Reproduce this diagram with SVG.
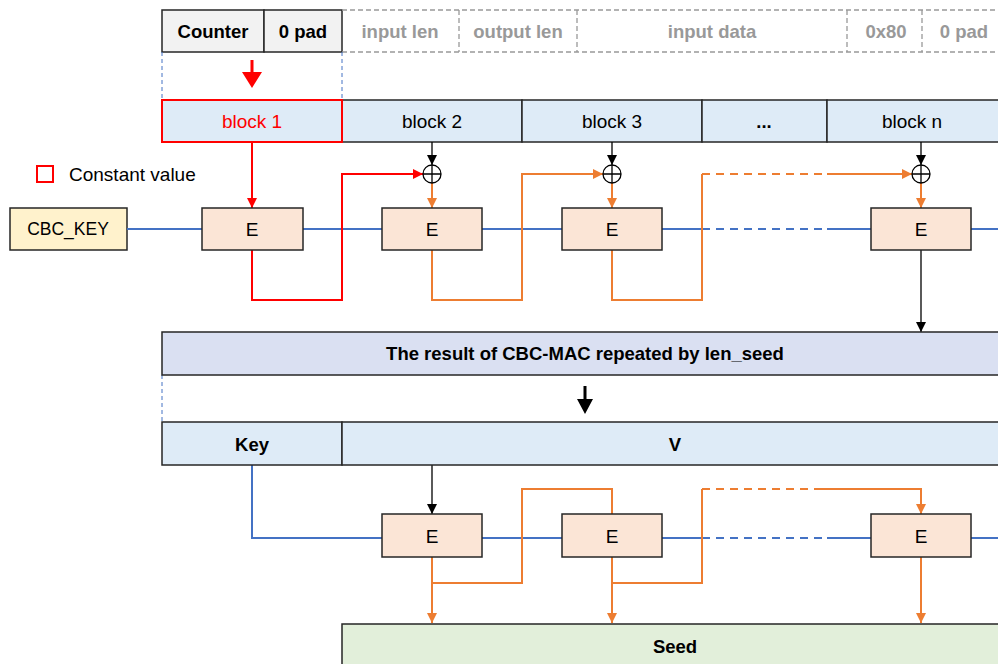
<svg xmlns="http://www.w3.org/2000/svg" width="998" height="664" viewBox="0 0 998 664">
<style>
text{font-family:"Liberation Sans",Arial,sans-serif;text-anchor:middle;dominant-baseline:central}
.b{font-weight:bold;font-size:18.5px;fill:#000}
.r{font-size:19px;fill:#000}
.g{font-weight:bold;font-size:18.5px;fill:#999}
.box{stroke:#262626;stroke-width:1.5}
.blk{fill:#deebf7;stroke:#262626;stroke-width:1.5}
.e{fill:#fbe5d6;stroke:#262626;stroke-width:1.5}
.gd{stroke:#999;stroke-width:1.3;stroke-dasharray:5,3;fill:none}
.bd{stroke:#4472c4;stroke-width:1;stroke-dasharray:4,3;fill:none}
.blue{stroke:#4472c4;stroke-width:2;fill:none}
.blued{stroke:#4472c4;stroke-width:2;fill:none;stroke-dasharray:8,6}
.or{stroke:#ed7d31;stroke-width:2;fill:none}
.ord{stroke:#ed7d31;stroke-width:2;fill:none;stroke-dasharray:8,6}
.red{stroke:#ff0000;stroke-width:2;fill:none}
.blk1{stroke:#000;stroke-width:1.3;fill:none}
.xor{fill:#fff;stroke:#000;stroke-width:1.3}
</style>
<defs>
<marker id="ab" markerUnits="userSpaceOnUse" markerWidth="10" markerHeight="10" refX="10" refY="5" orient="auto"><path d="M0,0 L10,5 L0,10 Z" fill="#000"/></marker>
<marker id="ao" markerUnits="userSpaceOnUse" markerWidth="10" markerHeight="10" refX="10" refY="5" orient="auto"><path d="M0,0 L10,5 L0,10 Z" fill="#ed7d31"/></marker>
<marker id="ar" markerUnits="userSpaceOnUse" markerWidth="10" markerHeight="10" refX="10" refY="5" orient="auto"><path d="M0,0 L10,5 L0,10 Z" fill="#ff0000"/></marker>
</defs>

<g id="input-format">
<rect x="162" y="10" width="102" height="42" fill="#f2f2f2" class="box"/>
<text x="213" y="31" class="b">Counter</text>
<rect x="264" y="10" width="78" height="42" fill="#f2f2f2" class="box"/>
<text x="303" y="31" class="b">0 pad</text>
<path class="gd" d="M342,10 H998 M342,52 H998 M459,10 V52 M577,10 V52 M847,10 V52 M922,10 V52"/>
<text x="400" y="31" class="g">input len</text>
<text x="518" y="31" class="g">output len</text>
<text x="712" y="31" class="g">input data</text>
<text x="886" y="31" class="g">0x80</text>
<text x="964" y="31" class="g">0 pad</text>
</g>

<g id="blocks">
<rect x="342" y="100" width="180" height="42" class="blk"/>
<text x="432" y="121" class="r">block 2</text>
<rect x="522" y="100" width="180" height="42" class="blk"/>
<text x="612" y="121" class="r">block 3</text>
<rect x="702" y="100" width="125" height="42" class="blk"/>
<text x="764" y="121" class="b">...</text>
<rect x="827" y="100" width="175" height="42" class="blk"/>
<text x="912" y="121" class="r">block n</text>
<rect x="162" y="100" width="180" height="42" fill="#deebf7" stroke="#ff0000" stroke-width="2"/>
<text x="252" y="121" class="r" style="fill:#ff0000">block 1</text>
</g>

<g id="legend">
<rect x="37" y="166" width="16" height="16" fill="none" stroke="#ff0000" stroke-width="2"/>
<text x="69" y="174" class="r" style="text-anchor:start">Constant value</text>
</g>

<g id="cbc-key">
<rect x="10" y="208" width="117" height="42" fill="#fff2cc" class="box"/>
<text x="68" y="229" class="r" style="font-size:17.5px">CBC_KEY</text>
</g>

<g id="connectors">
<path class="bd" d="M162,52 V100 M342,52 V100 M162,375 V422"/>
<path d="M250.5,60 H253.5 V72 H262 L252,88 L242,72 H250.5 Z" fill="#ff0000"/>
<path class="blue" d="M127,229 H202 M303,229 H382 M482,229 H562 M662,229 H702 M827,229 H871 M971,229 H998"/>
<path class="blued" d="M702,229 H827"/>
<path class="red" d="M252,142 V208" marker-end="url(#ar)"/>
<path class="red" d="M252,250 V300 H342 V174 H423" marker-end="url(#ar)"/>
<path class="blk1" d="M432,142 V165" marker-end="url(#ab)"/>
<path class="blk1" d="M612,142 V165" marker-end="url(#ab)"/>
<path class="blk1" d="M921,142 V165" marker-end="url(#ab)"/>
<path class="or" d="M432,183 V208" marker-end="url(#ao)"/>
<path class="or" d="M612,183 V208" marker-end="url(#ao)"/>
<path class="or" d="M921,183 V208" marker-end="url(#ao)"/>
<path class="or" d="M432,250 V300 H522 V174 H603" marker-end="url(#ao)"/>
<path class="or" d="M612,250 V300 H702 V174"/>
<path class="ord" d="M702,174 H827"/>
<path class="or" d="M827,174 H912" marker-end="url(#ao)"/>
<path class="blk1" d="M921,250 V332" marker-end="url(#ab)"/>
<path d="M583.5,386 H586.5 V399 H593 L585,414 L577,399 H583.5 Z" fill="#000"/>
<path class="blue" d="M252,465 V538 H382 M482,538 H562 M662,538 H702 M827,538 H871 M971,538 H998"/>
<path class="blued" d="M702,538 H827"/>
<path class="blk1" d="M432,465 V514" marker-end="url(#ab)"/>
<path class="or" d="M432,557 V623" marker-end="url(#ao)"/>
<path class="or" d="M432,583 H522 V489 H612 V514"/>
<path class="or" d="M612,557 V623" marker-end="url(#ao)"/>
<path class="or" d="M612,583 H702 V489"/>
<path class="ord" d="M702,489 H822"/>
<path class="or" d="M822,489 H921 V514" marker-end="url(#ao)"/>
<path class="or" d="M921,557 V623" marker-end="url(#ao)"/>
</g>

<g id="xor-1"><circle cx="432" cy="174" r="9" class="xor"/><path class="blk1" d="M423,174 H441 M432,165 V183"/></g>
<g id="xor-2"><circle cx="612" cy="174" r="9" class="xor"/><path class="blk1" d="M603,174 H621 M612,165 V183"/></g>
<g id="xor-n"><circle cx="921" cy="174" r="9" class="xor"/><path class="blk1" d="M912,174 H930 M921,165 V183"/></g>

<g id="e-1"><rect x="202" y="208" width="101" height="42" class="e"/><text x="252" y="229" class="r">E</text></g>
<g id="e-2"><rect x="382" y="208" width="100" height="42" class="e"/><text x="432" y="229" class="r">E</text></g>
<g id="e-3"><rect x="562" y="208" width="100" height="42" class="e"/><text x="612" y="229" class="r">E</text></g>
<g id="e-n"><rect x="871" y="208" width="100" height="42" class="e"/><text x="921" y="229" class="r">E</text></g>

<g id="cbc-mac-result">
<rect x="162" y="332" width="840" height="43" fill="#dae0f2" class="box"/>
<text x="585" y="353.5" class="b">The result of CBC-MAC repeated by len_seed</text>
</g>

<g id="key-v">
<rect x="162" y="422" width="180" height="43" class="blk"/>
<text x="252" y="444" class="b">Key</text>
<rect x="342" y="422" width="660" height="43" class="blk"/>
<text x="675" y="444" class="b">V</text>
</g>

<g id="e2-1"><rect x="382" y="514" width="100" height="43" class="e"/><text x="432" y="536" class="r">E</text></g>
<g id="e2-2"><rect x="562" y="514" width="100" height="43" class="e"/><text x="612" y="536" class="r">E</text></g>
<g id="e2-n"><rect x="871" y="514" width="100" height="43" class="e"/><text x="921" y="536" class="r">E</text></g>

<g id="seed">
<rect x="342" y="624" width="660" height="50" fill="#e2efda" class="box"/>
<text x="675" y="646" class="b">Seed</text>
</g>
</svg>
